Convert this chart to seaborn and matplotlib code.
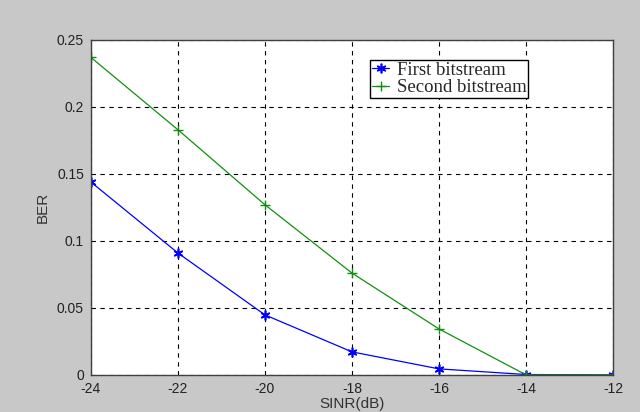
import numpy as np
import pandas as pd
import seaborn as sns
import matplotlib.pyplot as plt

sinr = [-24, -22, -20, -18, -16, -14, -12]
first_ber = [0.144, 0.091, 0.0448, 0.0172, 0.0045, 0.0003, 0.0]
second_ber = [0.237, 0.183, 0.127, 0.076, 0.0343, 0.0, 0.0]

sns.set_style('white')
plt.rcParams['font.family'] = ['Liberation Sans', 'DejaVu Sans']
plt.rcParams['axes.unicode_minus'] = False

fig = plt.figure(figsize=(6.4, 4.12), dpi=100, facecolor='#c8c8c8')
ax = fig.add_axes([0.142, 0.09, 0.816, 0.813])

sns.lineplot(x=sinr, y=first_ber, color='blue', marker=(6, 2, 0), markersize=7,
             markeredgecolor='blue', markeredgewidth=1.2, linewidth=0.9,
             label='First bitstream', ax=ax)
sns.lineplot(x=sinr, y=second_ber, color='#109010', marker='+', markersize=7,
             markeredgecolor='#109010', markeredgewidth=1, linewidth=0.9,
             label='Second bitstream', ax=ax)

ax.set_xlim(-24, -12)
ax.set_ylim(0, 0.25)
ax.set_xticks(sinr)
ax.set_yticks([0, 0.05, 0.1, 0.15, 0.2, 0.25])
ax.set_yticklabels(['0', '0.05', '0.1', '0.15', '0.2', '0.25'])
ax.grid(True, color='black', linestyle=(0, (4, 4)), linewidth=0.8)
ax.tick_params(labelsize=10, colors='#222222', length=0)
ax.tick_params(axis='y', pad=5)
ax.tick_params(axis='x', pad=5)
for s in ax.spines.values():
    s.set_color('#404040')
    s.set_linewidth(1)

ax.set_xlabel('SINR(dB)', fontsize=11, color='#333333', labelpad=1)
ax.set_ylabel('BER', fontsize=11, color='#333333', labelpad=5)

leg = ax.legend(loc='upper left', bbox_to_anchor=(0.535, 0.94), frameon=True,
                fancybox=False, edgecolor='black', framealpha=1,
                prop={'family': 'Liberation Serif', 'size': 13.5},
                handlelength=0.9, borderpad=0.1, labelspacing=0.0,
                handletextpad=0.4, borderaxespad=0)
leg.get_frame().set_linewidth(1)

fig.savefig('out.png', dpi=100, facecolor=fig.get_facecolor())
